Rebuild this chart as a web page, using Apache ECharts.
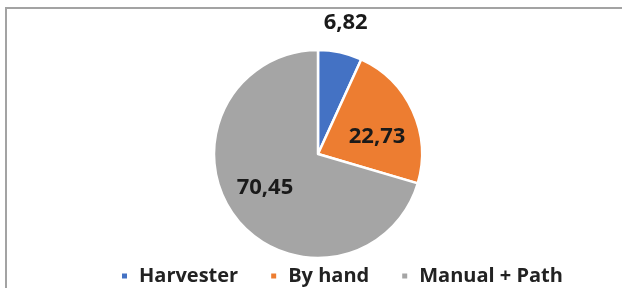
<!DOCTYPE html>
<html>
<head>
<meta charset="utf-8">
<script src="https://cdn.jsdelivr.net/npm/echarts@6/dist/echarts.min.js"></script>
<style>
  html, body { margin: 0; padding: 0; background: #fff; }
  #frame {
    position: absolute; left: 5px; top: 7px; width: 622px; height: 288px;
    border-top: 2px solid #a3a3a3; border-left: 2px solid #a3a3a3;
  }
  #chart { position: absolute; left: 0; top: 0; width: 622px; height: 288px; }
</style>
</head>
<body>
<div id="frame"></div>
<div id="chart"></div>
<script>
const categories = ['Harvester', 'By hand', 'Manual + Path'];
const values = [6.82, 22.73, 70.45];
const colors = ['#4472C4', '#ED7D31', '#A5A5A5'];
// label nudges from the default inside spot (px)
const labelNudge = [[16, -78], [9, 6], [-9, 1]];

const myChart = echarts.init(document.getElementById('chart'));

const option = {
  animation: false,
  color: colors,
  legend: {
    data: categories,
    left: 120,
    top: 265,
    padding: 0,
    icon: 'rect',
    itemWidth: 7,
    itemHeight: 7,
    itemGap: 31,
    textStyle: {
      fontFamily: 'Open Sans',
      fontWeight: 'bold',
      fontSize: 20,
      color: '#222',
      lineHeight: 22,
      padding: [0, 0, 0, 6]
    }
  },
  series: [
    {
      type: 'pie',
      center: [318, 154],
      radius: [0, 104],
      startAngle: 90,
      clockwise: true,
      itemStyle: { borderColor: '#fff', borderWidth: 2.5 },
      label: {
        show: true,
        position: 'inside',
        fontFamily: 'Open Sans',
        fontWeight: 'bold',
        fontSize: 22,
        color: '#1a1a1a',
        formatter: p => p.value.toFixed(2).replace('.', ',')
      },
      labelLine: { show: false },
      labelLayout: p => ({ dx: labelNudge[p.dataIndex][0], dy: labelNudge[p.dataIndex][1] }),
      emphasis: { disabled: true },
      data: categories.map((c, i) => ({ name: c, value: values[i] }))
    }
  ]
};

myChart.setOption(option);
</script>
</body>
</html>
